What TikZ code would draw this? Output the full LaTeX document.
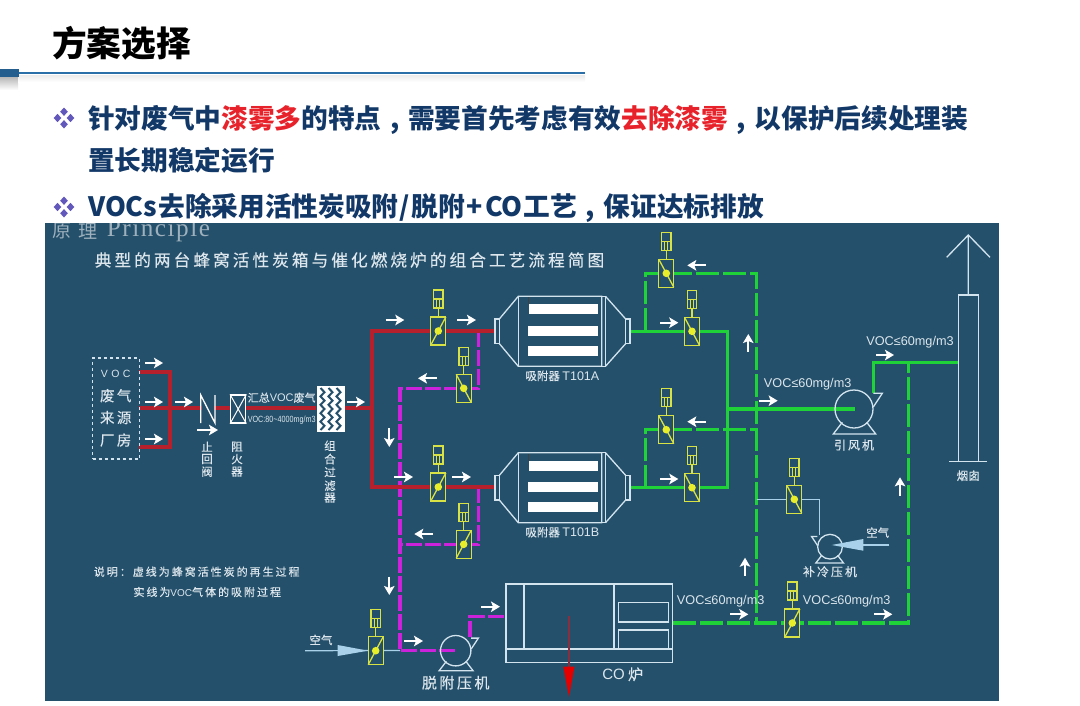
\documentclass[tikz,border=0pt]{standalone}
\usepackage{fontspec}
\setmainfont{Noto Sans CJK SC}
\newfontfamily\lat{Liberation Sans}
\newfontfamily\ser{Liberation Serif}
\newfontfamily\wide[LetterSpace=18,FakeBold=0.3]{Noto Sans CJK SC}
\newfontfamily\med[FakeBold=0.25]{Noto Sans CJK SC}
\usetikzlibrary{arrows.meta,calc}
\definecolor{panel}{HTML}{24506B}
\definecolor{redp}{HTML}{B5202C}
\definecolor{magp}{HTML}{CC22DC}
\definecolor{grnp}{HTML}{1FD238}
\definecolor{yelv}{HTML}{D9E245}
\definecolor{equip}{HTML}{D3E4EE}
\definecolor{thinp}{HTML}{A9D2EA}
\definecolor{txtl}{HTML}{DCE6EC}
\definecolor{navy}{HTML}{123868}
\definecolor{redt}{HTML}{E8222A}
\definecolor{bull}{HTML}{6258BC}
\definecolor{rule}{HTML}{2A6FA8}
\newcommand\cma{\makebox[1em][c]{,}}
\tikzset{
 pipered/.style={draw=redp,line width=3.8pt},
 pipemag/.style={draw=magp,line width=3.4pt,dash pattern=on 16pt off 3pt},
 pipegrn/.style={draw=grnp,line width=3.2pt},
 pipedash/.style={draw=grnp,line width=3.2pt,dash pattern=on 23pt off 4pt},
 thin pipe/.style={draw=thinp,line width=1.2pt},
 eq/.style={draw=equip,line width=1.3pt},
 vl/.style={draw=yelv,line width=1.3pt},
 flow/.style={draw=white,line width=1.9pt,-{Stealth[length=9pt,width=10.5pt,inset=2pt]}},
 lab/.style={text=txtl,inner sep=0pt,font=\med\fontsize{11.5}{12}\selectfont},
 voc/.style={text=txtl,inner sep=0pt,font=\lat\fontsize{12.7}{13}\selectfont},
 head/.style={inner sep=0pt,anchor=west,text=navy,font=\bfseries\fontsize{26.67}{30}\selectfont},
}
\newcommand\valve[4]{%
 \coordinate (#1) at (#2,#3);
 \begin{scope}[shift={(#2,#3)}]
  \draw[vl,fill=panel] (-7.5,-14) rectangle (7.5,14);
  \draw[vl] (-7.5,{14*#4}) -- (7.5,{-14*#4});
  \fill[yelv!60!yellow] (0,0) circle[radius=3.8];
  \draw[vl] (0,-14) -- (0,-23);
  \draw[vl] (-4.7,-41) rectangle (4.7,-23);
  \draw[vl] (-4.7,-32) -- (4.7,-32) (-1.5,-32) -- (-1.5,-23) (1.5,-32) -- (1.5,-23);
 \end{scope}}
\newcommand\pump[5]{%
 \coordinate (#1) at (#2,#3);
 \begin{scope}[shift={(#2,#3)},xscale=#5*#4,yscale=#4]
  \draw[eq] (0,0) circle[radius=19];
  \draw[eq] (19.3,-15.7) -- (28.3,-15.7) -- (19.3,-2);
  \draw[eq] (-11.7,13.3) -- (-20.7,25) -- (21.7,25) -- (12.7,13.3);
 \end{scope}}
\newcommand\absorber[3]{%
 \coordinate (#1) at (0,#3);
 \begin{scope}[shift={(0,#3)}]
  \draw[eq] (495,-12.3) rectangle (499.3,12.3);
  \draw[eq] (499.3,-12.3) -- (518.3,-35) -- (601.7,-35) -- (601.7,35) -- (518.3,35) -- (499.3,12.3);
  \draw[eq] (518.3,-35) -- (518.3,35) (605.5,-35) -- (605.5,35) (601.7,-35) -- (605.5,-35) (601.7,35) -- (605.5,35);
  \draw[eq] (605.5,-35) -- (625.7,-12.3) (605.5,35) -- (625.7,12.3);
  \draw[eq] (625.7,-12.3) rectangle (630,12.3);
  \fill[white] (528.5,-27) rectangle (598,-17);
  \fill[white] (527.5,-5.5) rectangle (598,4.5);
  \fill[white] (527.5,14.5) rectangle (598,24.5);
  \fill[black!75] (527.5,-34) rectangle (528.8,-27);
  \node[lab,font=\med\fontsize{11.5}{12}\selectfont] (#1lab) at (562.3,44.5) {吸附器 {\lat\fontsize{12.5}{12}\selectfont #2}};
 \end{scope}}
\begin{document}
\begin{tikzpicture}[x=1pt,y=-1pt]
\useasboundingbox (0,0) rectangle (1080,705);
\fill[white] (0,0) rectangle (1080,705);
% header
\node[inner sep=0pt,anchor=west,text=black,font=\bfseries\fontsize{34.7}{36}\selectfont] (title) at (52,43) {方案选择};
\shade[top color=black!28,bottom color=white] (0,77) rectangle (18,90);
\shade[top color=black!8,bottom color=white] (18,75) rectangle (585,82);
\coordinate (rulea) at (18,73); \coordinate (ruleb) at (585,73);
\draw[rule,line width=1.4pt] (rulea) -- (ruleb);
\fill[rule!85!black] (0,69) rectangle (19,77);
\foreach \yy in {118,207}{
 \fill[bull] (64,\yy-10.5) -- ++(3.8,4.2) -- ++(-3.8,4.2) -- ++(-3.8,-4.2) -- cycle;
 \fill[bull] (64,\yy+2.1) -- ++(3.8,4.2) -- ++(-3.8,4.2) -- ++(-3.8,-4.2) -- cycle;
 \fill[bull] (57.5,\yy-4.2) -- ++(3.8,4.2) -- ++(-3.8,4.2) -- ++(-3.8,-4.2) -- cycle;
 \fill[bull] (70.5,\yy-4.2) -- ++(3.8,4.2) -- ++(-3.8,4.2) -- ++(-3.8,-4.2) -- cycle;
}
\node[head] (h1) at (88,119.5) {针对废气中\textcolor{redt}{漆雾多}的特点\cma 需要首先考虑有效\textcolor{redt}{去除漆雾}\cma 以保护后续处理装};
\node[head] (h2) at (88,160.5) {置长期稳定运行};
\node[head] (h3) at (88,207.5) {VOCs\hspace{1pt}去除采用活性炭吸附\hspace{1.5pt}/\hspace{1.5pt}脱附\hspace{2pt}+\hspace{2pt}CO\hspace{1pt}工艺\cma 保证达标排放};
% panel
\fill[panel] (45,223) rectangle (999,701);
\begin{scope}
 \clip (45,223) rectangle (999,701);
 \node[inner sep=0pt,anchor=west,text=panel!45!white,font=\fontsize{19}{20}\selectfont] (prina) at (52,231) {原};
 \node[inner sep=0pt,anchor=west,text=panel!45!white,font=\fontsize{19}{20}\selectfont] (prinb) at (78,231) {理};
 \node[inner sep=0pt,anchor=west,text=panel!45!white] (princ) at (106.7,230) {\ser\fontsize{25.2}{25}\selectfont\addfontfeatures{LetterSpace=6}Principle};
\end{scope}
\node[inner sep=0pt,text=txtl,font=\wide\fontsize{16.7}{18}\selectfont] (hd) at (349.5,260) {典型的两台蜂窝活性炭箱与催化燃烧炉的组合工艺流程简图};
% note
\node[inner sep=0pt,anchor=west,text=txtl,font=\wide\fontsize{11}{12}\selectfont] (n1) at (93.7,571.7) {说明：虚线为蜂窝活性炭的再生过程};
\node[inner sep=0pt,anchor=west,text=txtl,font=\wide\fontsize{11}{12}\selectfont] (n2) at (133.3,592) {实线为{\lat\fontsize{10}{11}\selectfont VOC}气体的吸附过程};
% key points
\coordinate (s1) at (139,372); \coordinate (s1r) at (170,372);
\coordinate (s2) at (139,447); \coordinate (s2r) at (170,447);
\coordinate (s0) at (139,408);
\coordinate (trunk) at (372,408); \coordinate (trunkT) at (372,331); \coordinate (trunkB) at (372,487);
\coordinate (flA) at (496,331); \coordinate (flB) at (496,487);
\coordinate (mA) at (478.3,331); \coordinate (mA2) at (478.3,388.3);
\coordinate (mB) at (478.3,487); \coordinate (mB2) at (478.3,544.3);
\coordinate (mL) at (400,388.3); \coordinate (mLm) at (400,544.3); \coordinate (mLb) at (400,650.5);
\coordinate (pOut) at (470,636.7); \coordinate (pOut2) at (470,616.7); \coordinate (coIn) at (506,616.7);
\coordinate (outA) at (630,331.3); \coordinate (outB) at (630,487.7);
\coordinate (gT) at (727.3,331.3); \coordinate (gB) at (727.3,487.7); \coordinate (gM) at (727.3,409);
\coordinate (dAb) at (645.7,331.3); \coordinate (dAt) at (645.7,273.3); \coordinate (dAr) at (756.7,273.3);
\coordinate (dBb) at (645.7,487.7); \coordinate (dBt) at (645.7,429.7); \coordinate (dBr) at (756.7,429.7);
\coordinate (dBot) at (756.7,623); \coordinate (coOut) at (672.7,623); \coordinate (dRb) at (908.3,623); \coordinate (dRt) at (908.3,362.7);
\coordinate (fanOut) at (873.3,393); \coordinate (fanUp) at (873.3,362.7); \coordinate (stackIn) at (958.3,362.7);
\coordinate (airA) at (305,650.7);
\coordinate (brL) at (756.7,499.3); \coordinate (brR) at (819.3,499.3); \coordinate (brP) at (819.3,535);
\coordinate (airB) at (889.3,545); \coordinate (airBtip) at (840,545);
% pipes
\draw[pipemag] (mA) -- (mA2) -- (mL) -- (mLb) -- (455,650.5);
\draw[pipemag] (mB) -- (mB2) -- (mLm);
\draw[pipemag] (pOut) -- (pOut2) -- (coIn);
\draw[pipered,line cap=butt] (s1) -- (s1r) -- (s2r) -- (s2);
\draw[pipered] (s0) -- (316,408);
\draw[pipered] (345,408) -- (trunk);
\draw[pipered,line join=miter] (flA) -- (trunkT) -- (trunkB) -- (flB);
\draw[pipegrn,line join=miter] (outA) -- (gT) -- (gB) -- (outB);
\draw[pipegrn] (gM) -- (855,409);
\draw[pipedash] (dAb) -- (dAt) -- (dAr) -- (dBot);
\draw[pipedash] (dBb) -- (dBt) -- (dBr);
\draw[pipedash] (coOut) -- (dBot) -- (dRb) -- (dRt);
\draw[pipegrn,line join=miter] (fanOut) -- (fanUp) -- (stackIn);
\draw[thin pipe] (airA) -- (mLb);
\draw[thin pipe] (brL) -- (brR) -- (brP);
\draw[thin pipe] (airB) -- (airBtip);
% source box
\node[draw=equip,dashed,line width=1.2pt,minimum width=46.6pt,minimum height=101pt,inner sep=0pt] (src) at (116,408.5) {};
\node[inner sep=0pt,text=txtl,font=\lat\fontsize{10.5}{11}\selectfont] (sv) at (115.7,374) {V\,\,O\,\,C};
\node[lab,font=\med\fontsize{14.5}{16}\selectfont] (s3) at (115.7,395.7) {废\,气};
\node[lab,font=\med\fontsize{14.5}{16}\selectfont] (s4) at (115.7,417.5) {来\,源};
\node[lab,font=\med\fontsize{14.5}{16}\selectfont] (s5) at (115.7,440) {厂\,房};
% check valve
\fill[panel] (202,402) rectangle (214,415);
\coordinate (cv1) at (200.7,395); \coordinate (cv2) at (200.7,423); \coordinate (cv3) at (215,395); \coordinate (cv4) at (215,423);
\draw[draw=white,line width=1.3pt] (cv2) -- (cv1) -- (cv4) -- (cv3);
\node[lab] (cvA) at (207,446.7) {止}; \node[lab] (cvB) at (207,459) {回}; \node[lab] (cvC) at (207,471.7) {阀};
% arrester
\node[draw=white,fill=panel,line width=1.3pt,minimum width=15pt,minimum height=28pt,inner sep=0pt] (fa) at (238.2,409) {};
\draw[draw=white,line width=1pt] (fa.north west) -- (fa.south east) (fa.north east) -- (fa.south west);
\node[lab] (faA) at (237,446.7) {阻}; \node[lab] (faB) at (237,459) {火}; \node[lab] (faC) at (237,471.7) {器};
\node[inner sep=0pt,text=txtl,font=\med\fontsize{11}{12}\selectfont] (vt1) at (281.7,397.7) {汇总{\lat VOC}废气};
\node[inner sep=0pt,text=txtl,xscale=.8,font=\lat\fontsize{9}{10}\selectfont] (vt2) at (281.7,420) {VOC:80\textasciitilde4000mg/m3};
% filter
\node[fill=white,minimum width=28.5pt,minimum height=46.6pt,inner sep=0pt] (filt) at (330.8,409) {};
\foreach \xx in {320.5,328.5,336.5}{
 \draw[draw=panel,line width=2pt,line join=miter] (\xx,388) -- ++(4,4.2) -- ++(-4,4.2) -- ++(4,4.2) -- ++(-4,4.2) -- ++(4,4.2) -- ++(-4,4.2) -- ++(4,4.2) -- ++(-4,4.2) -- ++(4,4.2) -- ++(-4,4.2);
}
\foreach \n/\t/\yy in {A/组/445.7,B/合/459,C/过/472,D/滤/485.7,E/器/497.7}{
 \node[lab] (flt\n) at (330,\yy) {\t};
}
% absorbers
\absorber{absA}{T101A}{331.3}
\absorber{absB}{T101B}{487.7}
% valves
\valve{v1}{438.3}{331}{1}
\valve{v2}{463.7}{388.3}{-1}
\valve{v3}{438.3}{487}{1}
\valve{v4}{463.7}{544.3}{1}
\valve{v5}{375.7}{650.7}{1}
\valve{v6}{666.3}{273.3}{-1}
\valve{v7}{692}{331.3}{-1}
\valve{v8}{666.3}{429.7}{-1}
\valve{v9}{692}{487.7}{-1}
\valve{v10}{794.3}{499.3}{-1}
\valve{v11}{792.3}{623}{1}
% air arrows
\coordinate (t1a) at (337.7,645); \coordinate (t1b) at (337.7,656); \coordinate (t1c) at (368,650.7);
\fill[thinp] (t1a) -- (t1c) -- (t1b) -- cycle;
\coordinate (t2a) at (863.3,539); \coordinate (t2b) at (863.3,550.7); \coordinate (t2c) at (831.7,545);
% pumps
\pump{pu}{455.7}{650.7}{.8}{1}
\pump{fan}{854}{409}{1}{1}
\pump{cp}{830}{546.7}{.65}{-1}
\fill[thinp] (t2a) -- (t2c) -- (t2b) -- cycle;
% labels
\node[lab] (air1) at (321,640) {空气};
\node[lab] (air2) at (877.7,532.7) {空气};
\node[lab,font=\med\fontsize{15}{16}\selectfont] (pl) at (455.7,682.7) {脱\,附\,压\,机};
\node[lab,font=\med\fontsize{12}{13}\selectfont] (cpl) at (830,571.7) {补\,冷\,压\,机};
\node[lab,font=\med\fontsize{12}{13}\selectfont] (fl) at (854,445) {引\,风\,机};
\node[lab] (st) at (968.3,475.7) {烟囱};
% stack
\node[draw=equip,line width=1.3pt,minimum width=20pt,minimum height=166.7pt,inner sep=0pt] (stack) at (968.3,378.3) {};
\coordinate (tip) at (968.3,235); \coordinate (tl) at (946.7,257.3); \coordinate (tr) at (990,257.3);
\coordinate (bl) at (949,461.7); \coordinate (br) at (987,461.7);
\draw[eq,line width=1.3pt] (stack.north) -- (tip) (tl) -- (tip) -- (tr);
\draw[eq,line width=1.3pt] (bl) -- (br);
% CO furnace
\node[eq,minimum width=166.7pt,minimum height=78.3pt,inner sep=0pt] (co) at (589.3,623.2) {};
\draw[eq] (524,584) -- (524,649) (614,584) -- (614,649) (506,649) -- (672.7,649);
\draw[eq] (618.3,602.7) rectangle (668.3,622) (618.3,630) rectangle (668.3,649);
\coordinate (ex1) at (569,616); \coordinate (ex2) at (569,666.7);
\draw[draw=redp!70!panel,line width=1.4pt] (ex1) -- (ex2);
\fill[red!90!black] (563.3,666.7) -- (574.5,666.7) -- (569,697) -- cycle;
\node[lab,font=\med\fontsize{15}{16}\selectfont] (col) at (622.7,674.3) {{\lat CO} 炉};
% VOC labels
\node[voc] (vc1) at (910,342.3) {VOC≤60mg/m3};
\node[voc] (vc2) at (807.7,384.3) {VOC≤60mg/m3};
\node[voc] (vc3) at (720.7,601.7) {VOC≤60mg/m3};
\node[voc] (vc4) at (846.7,601.7) {VOC≤60mg/m3};
% flow arrows
\foreach \i/\xa/\ya/\xb/\yb in {a/145/363/163/363,b/145/402/163/402,c/145/439/163/439,d/175/402/193/402,e/197/430/218/430,f/347/402/365/402,
 g/385.7/320/404.3/320,h/457/320/476/320,i/437/378.3/418/378.3,j/389.3/428/389.3/447,k/394/477/413/477,l/452/477/471/477,
 m/433/534/414.3/534,n/389.3/576.7/389.3/595,o/404/641/423/641,p/481/606.7/500/606.7,
 q/876/355/894/355,r/759/400.7/777.7/400.7,s/748.3/351.7/748.3/334,t/706/265.3/687.3/265.3,u/660/322.7/678.3/322.7,
 v/706/421.7/687.3/421.7,w/660/479/678.3/479,x/900/495.7/900/477.3,y/745/576/745/557.7,z/730/614.3/748.3/614.3,aa/874/614.3/892.3/614.3}{
 \coordinate (fs\i) at (\xa,\ya); \coordinate (fe\i) at (\xb,\yb);
 \draw[flow] (fs\i) -- (fe\i);
}
\end{tikzpicture}
\end{document}
